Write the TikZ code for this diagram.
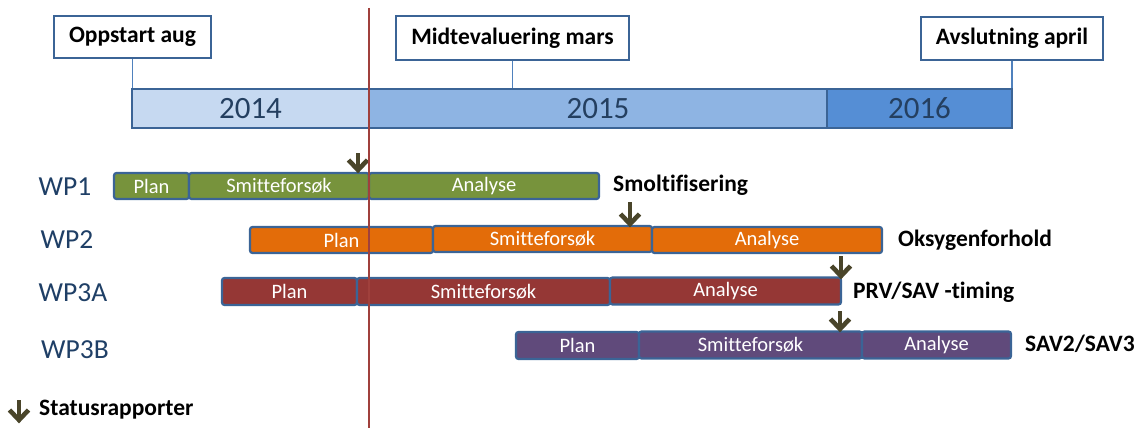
\documentclass[tikz,border=0pt]{standalone}
\usepackage{fontspec}
\setmainfont[Ligatures=NoCommon]{Carlito}
\definecolor{bordc}{HTML}{3B6496}
\definecolor{connc}{HTML}{4F81BD}
\definecolor{yr1}{HTML}{C6D9F1}
\definecolor{yr2}{HTML}{8EB4E3}
\definecolor{yr3}{HTML}{558ED5}
\definecolor{yrtext}{HTML}{243F60}
\definecolor{wptext}{HTML}{1F3F66}
\definecolor{gr}{HTML}{77933C}
\definecolor{orc}{HTML}{E36C09}
\definecolor{rdc}{HTML}{953735}
\definecolor{puc}{HTML}{604A7B}
\definecolor{arrc}{HTML}{4A452A}
\definecolor{linec}{HTML}{A0403C}
\newcommand\statarrow[3]{%
  \draw[starr] (#1,#2) -- (#1,#3-2);
  \draw[starr] (#1-9.5,#3-13) -- (#1,#3-3) -- (#1+9.5,#3-13);}
\begin{document}
\begin{tikzpicture}[x=1pt,y=-1pt,
  seg/.style={draw=bordc, line width=2.2pt, rounded corners=2.5pt, inner sep=0pt,
    text=white, font=\fontsize{20.5}{22}\selectfont},
  yearseg/.style={draw=bordc, line width=2.8pt, inner sep=0pt, minimum height=39pt,
    text=yrtext, font=\fontsize{31}{33}\selectfont},
  topbox/.style={draw=bordc, line width=1.3pt, fill=white, inner sep=0pt,
    font=\bfseries\fontsize{23.5}{25}\selectfont},
  conn/.style={draw=connc, line width=1.4pt},
  wplabel/.style={inner sep=0pt, text=wptext, font=\fontsize{27.5}{29}\selectfont},
  rlabel/.style={inner sep=0pt, anchor=west, font=\bfseries\fontsize{23.5}{25}\selectfont},
  starr/.style={draw=arrc, line width=4.6pt, line join=miter, line cap=butt},
  redline/.style={draw=linec, line width=2pt}
]
\useasboundingbox (0,0) rectangle (1141,428);

% year bar
\node[yearseg, fill=yr1, minimum width=237pt] (y14) at (250.5,108.5) {2014};
\node[yearseg, fill=yr2, minimum width=458pt] (y15) at (598,108.5) {2015};
\node[yearseg, fill=yr3, minimum width=185pt] (y16) at (919.5,108.5) {2016};

% top boxes
\node[topbox, minimum width=157pt, minimum height=42pt] (opp) at (132.5,37) {Oppstart aug};
\node[topbox, minimum width=233pt, minimum height=44pt] (mid) at (512.5,38) {Midtevaluering mars};
\node[topbox, minimum width=182pt, minimum height=43pt] (avs) at (1012,38.5) {Avslutning april};
\draw[conn] (opp.south) -- (opp.south |- y14.north);
\draw[conn] (mid.south) -- (mid.south |- y15.north);
\draw[conn] (avs.south) -- (avs.south |- y16.north);

% WP labels
\node[wplabel] (l1) at (65,187) {WP1};
\node[wplabel] (l2) at (67,240) {WP2};
\node[wplabel] (l3a) at (73,293) {WP3A};
\node[wplabel] (l3b) at (75,350) {WP3B};

% WP1
\node[seg, fill=gr, minimum width=75pt, minimum height=26pt] (w1p) at (151.5,186) {Plan};
\node[seg, fill=gr, minimum width=180pt, minimum height=26pt] (w1s) at (279,186) {Smitteforsøk};
\node[seg, fill=gr, minimum width=230pt, minimum height=26pt] (w1a) at (484,186) {Analyse};
% WP2
\node[seg, fill=orc, minimum width=183pt, minimum height=26pt] (w2p) at (341.5,240) {Plan};
\node[seg, fill=orc, minimum width=219pt, minimum height=26pt] (w2s) at (542.5,239) {Smitteforsøk};
\node[seg, fill=orc, minimum width=230pt, minimum height=26pt] (w2a) at (767,240) {Analyse};
% WP3A
\node[seg, fill=rdc, minimum width=135pt, minimum height=27pt] (w3ap) at (289.5,291.5) {Plan};
\node[seg, fill=rdc, minimum width=253pt, minimum height=27pt] (w3as) at (483.5,291.5) {Smitteforsøk};
\node[seg, fill=rdc, minimum width=231pt, minimum height=27pt] (w3aa) at (725.5,291) {Analyse};
% WP3B
\node[seg, fill=puc, minimum width=123pt, minimum height=27pt] (w3bp) at (577.5,345.5) {Plan};
\node[seg, fill=puc, minimum width=223pt, minimum height=27pt] (w3bs) at (750.5,345) {Smitteforsøk};
\node[seg, fill=puc, minimum width=149pt, minimum height=27pt] (w3ba) at (936.5,345) {Analyse};

% right labels
\node[rlabel] (r1) at (613,185) {Smoltifisering};
\node[rlabel] (r2) at (898,240) {Oksygenforhold};
\node[rlabel] (r3) at (853,292) {PRV/SAV -timing};
\node[rlabel] (r4) at (1025,344) {SAV2/SAV3};
\node[rlabel] (leg) at (39,410) {Statusrapporter};

% status arrows
\statarrow{358}{153}{173}
\statarrow{630}{202}{227}
\statarrow{841}{256}{279}
\statarrow{840}{311}{332}
\statarrow{19}{400}{423}

% red line
\coordinate (rtop) at (369,8);
\coordinate (rbot) at (369,428);
\draw[redline] (rtop) -- (rbot);
\end{tikzpicture}
\end{document}
